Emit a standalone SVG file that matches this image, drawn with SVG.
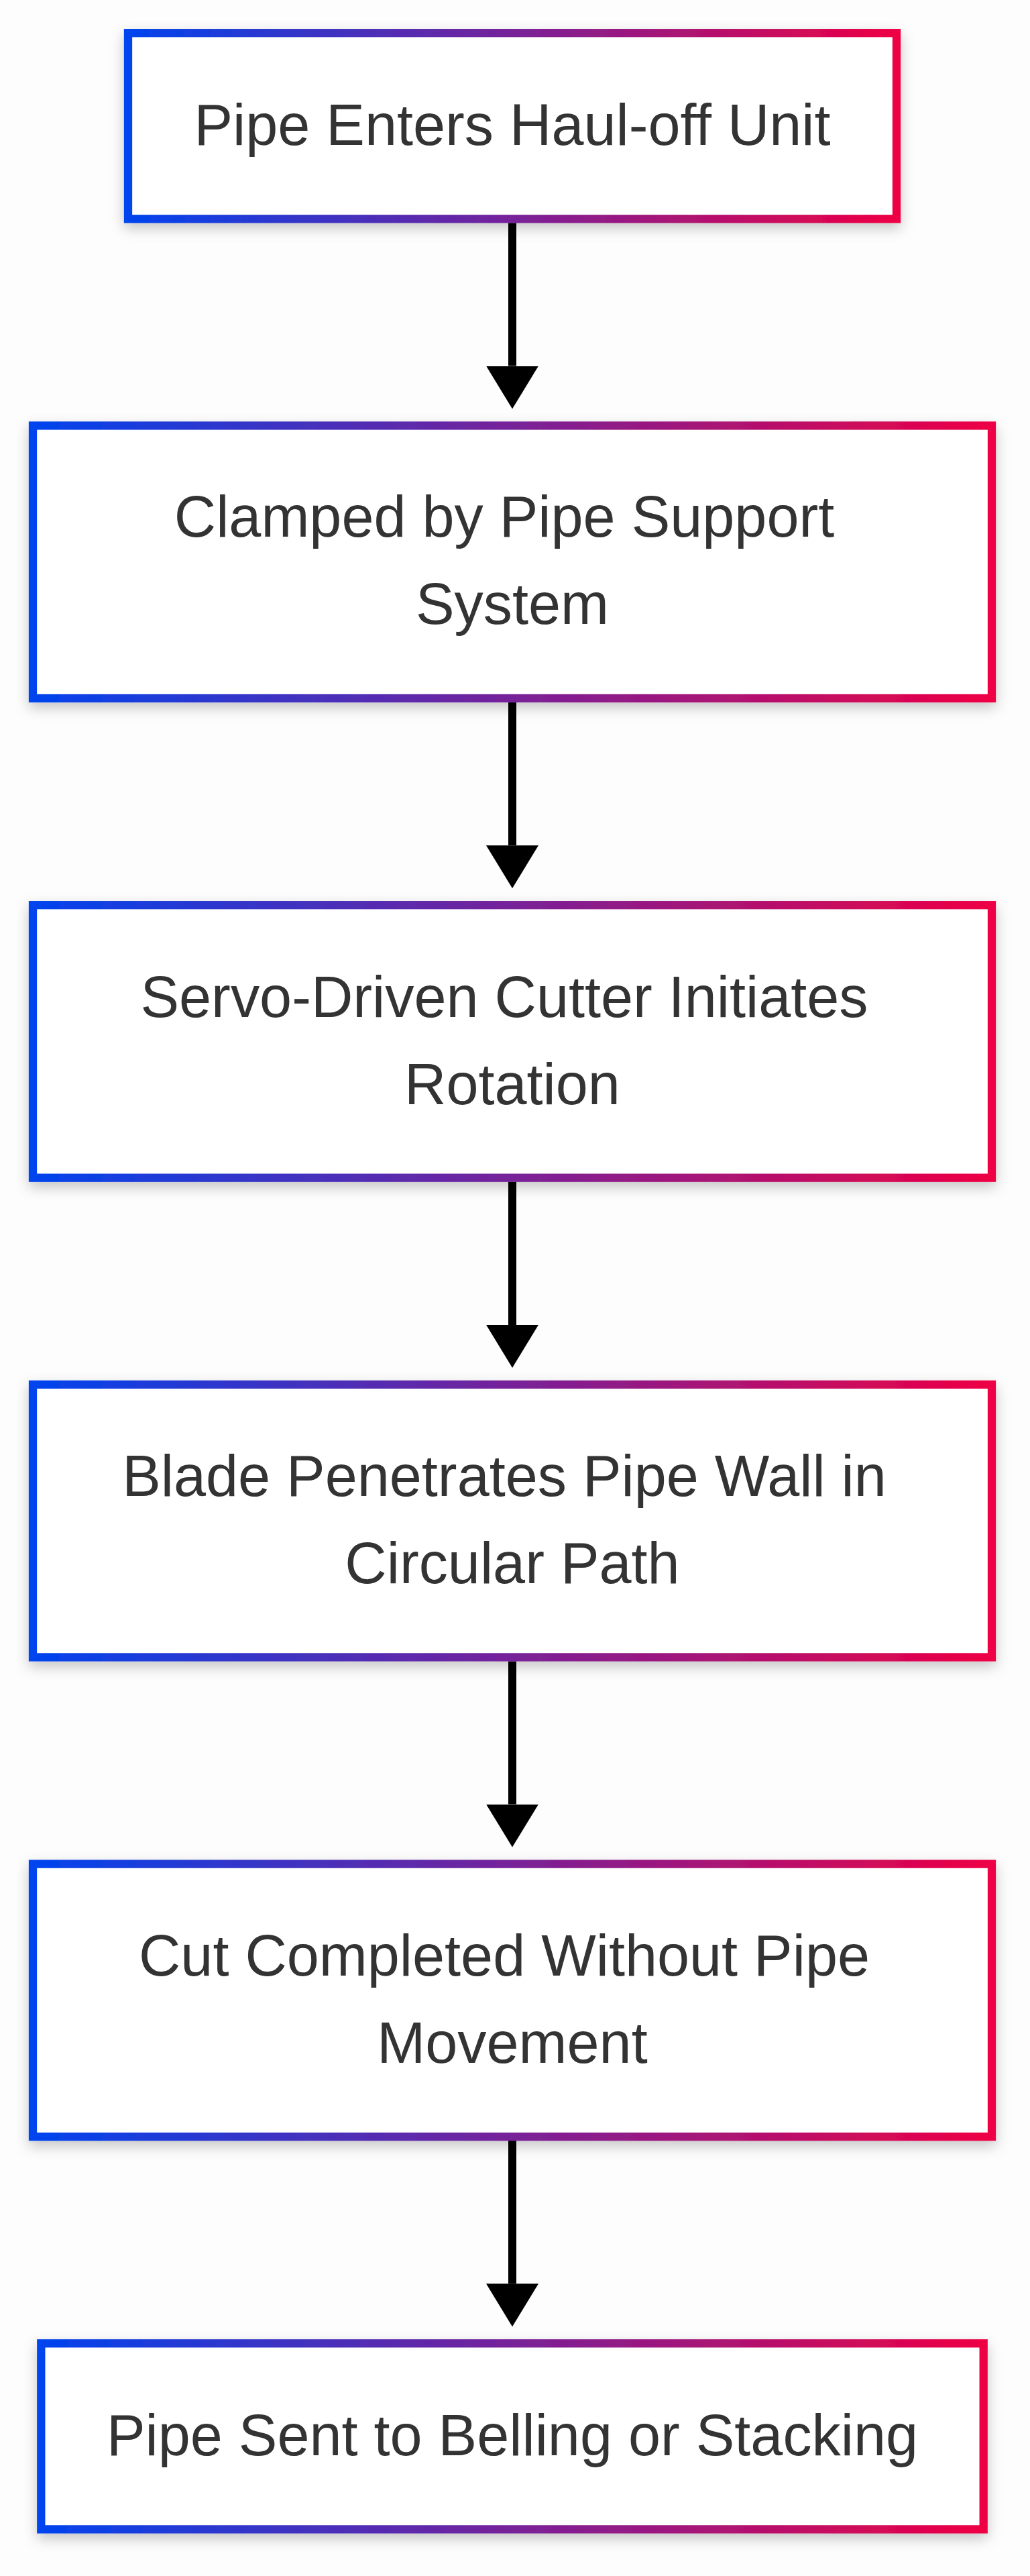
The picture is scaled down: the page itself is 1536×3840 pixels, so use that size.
<svg xmlns="http://www.w3.org/2000/svg" width="1536" height="3840" viewBox="0 0 1536 3840">
  <defs>
    <linearGradient id="grad" x1="0" y1="0" x2="1" y2="0">
      <stop offset="0" stop-color="#0044EE"/>
      <stop offset="1" stop-color="#EE0044"/>
    </linearGradient>
    <filter id="shadow" x="-10%" y="-20%" width="120%" height="150%">
      <feDropShadow dx="0" dy="8" stdDeviation="10" flood-color="#000" flood-opacity="0.22"/>
    </filter>
    <marker id="arrow" markerUnits="userSpaceOnUse" markerWidth="64" markerHeight="78" viewBox="0 0 64 78" refX="0" refY="39" orient="auto">
      <path d="M0,0 L64,39 L0,78 Z" fill="#000"/>
    </marker>
  </defs>
  <style>
    .box { fill: #FFFFFF; stroke: url(#grad); stroke-width: 12.3; filter: url(#shadow); }
    .lbl { font-family: "Liberation Sans", Arial, sans-serif; font-size: 86.4px; fill: #333333; text-anchor: middle; }
    .edge { stroke: #000; stroke-width: 12; fill: none; marker-end: url(#arrow); }
  </style>
  <rect x="0" y="0" width="1536" height="3840" fill="#FDFDFD"/>

  <g id="connectors">
    <path class="edge" d="M764,332.3 L764,545.5"/>
    <path class="edge" d="M764,1047 L764,1260.2"/>
    <path class="edge" d="M764,1761.7 L764,1974.9"/>
    <path class="edge" d="M764,2476.4 L764,2689.6"/>
    <path class="edge" d="M764,3191.1 L764,3404.3"/>
  </g>

  <g id="node1">
    <rect class="box" x="191" y="49.2" width="1146" height="277.1"/>
    <text class="lbl" x="764" y="216">Pipe Enters Haul-off Unit</text>
  </g>
  <g id="node2">
    <rect class="box" x="49" y="634.5" width="1430" height="406.5"/>
    <text class="lbl" x="752" y="800">Clamped by Pipe Support</text>
    <text class="lbl" x="764" y="930">System</text>
  </g>
  <g id="node3">
    <rect class="box" x="49" y="1349.2" width="1430" height="406.5"/>
    <text class="lbl" x="752" y="1515.5">Servo-Driven Cutter Initiates</text>
    <text class="lbl" x="764" y="1645.5">Rotation</text>
  </g>
  <g id="node4">
    <rect class="box" x="49" y="2063.9" width="1430" height="406.5"/>
    <text class="lbl" x="752" y="2230">Blade Penetrates Pipe Wall in</text>
    <text class="lbl" x="764" y="2360">Circular Path</text>
  </g>
  <g id="node5">
    <rect class="box" x="49" y="2778.6" width="1430" height="406.5"/>
    <text class="lbl" x="752" y="2945">Cut Completed Without Pipe</text>
    <text class="lbl" x="764" y="3075">Movement</text>
  </g>
  <g id="node6">
    <rect class="box" x="61.3" y="3493.3" width="1405.4" height="277.1"/>
    <text class="lbl" x="764" y="3660">Pipe Sent to Belling or Stacking</text>
  </g>
</svg>
